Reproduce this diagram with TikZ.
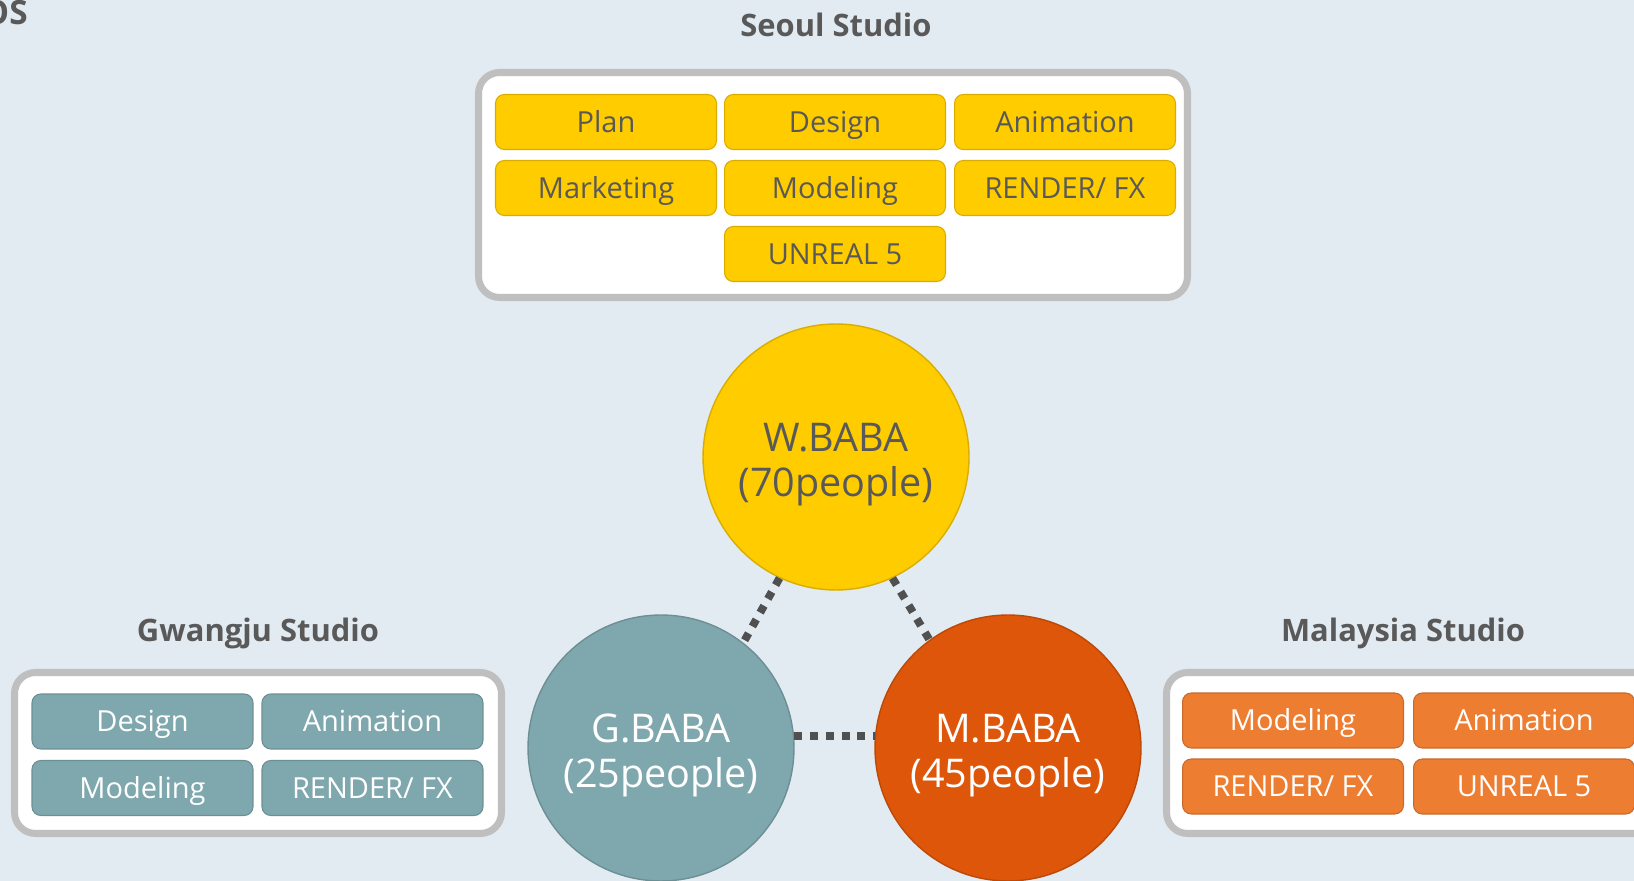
\documentclass[tikz,border=0pt]{standalone}
\usepackage{fontspec}
\setmainfont{Open Sans}
\definecolor{bg}{HTML}{E3EBF2}
\definecolor{txt}{HTML}{595959}
\definecolor{rim}{HTML}{BFBFBF}
\definecolor{wyellow}{HTML}{FFCC00}
\definecolor{gteal}{HTML}{7FA8AE}
\definecolor{morange}{HTML}{DD560A}
\definecolor{obtn}{HTML}{ED7D31}
\tikzset{
  title/.style={anchor=base, text=txt, font=\bfseries\fontsize{17.6}{20}\selectfont},
  studio/.style={draw=rim, line width=4pt, fill=white, rounded corners=12pt},
  btn/.style={rounded corners=5pt, minimum width=4.42cm, minimum height=1.1cm, inner sep=0pt,
    text height=11.9pt, text depth=0pt, line width=.6pt, font=\fontsize{16.5}{20}\selectfont},
  ybtn/.style={btn, fill=wyellow, draw=wyellow!85!black, text=txt},
  gbtn/.style={btn, fill=gteal, draw=gteal!85!black, text=white},
  obtn/.style={btn, fill=obtn, draw=obtn!85!black, text=white},
  baba/.style={circle, minimum size=5.32cm, inner sep=0pt, align=center, line width=.8pt,
    font=\fontsize{22.5}{25.6}\selectfont},
  dots/.style={draw=txt!90!black, line width=4.5pt, dash pattern=on 4.5pt off 4.5pt}
}
\newcommand\topline{\rule{0pt}{24.5pt}}
\begin{document}
\begin{tikzpicture}[x=.02cm, y=-.02cm]
\useasboundingbox (0,0) rectangle (1634,881);
\clip (0,0) rectangle (1634,881);
\fill[bg] (0,0) rectangle (1634,881);
\node[title, anchor=base east, inner sep=0pt, font=\bfseries\fontsize{19}{22}\selectfont] (head) at (28,25) {OS};

% studio boxes
\draw[studio] (478.5,72.5) rectangle (1187.5,297.5) (14.5,672.5) rectangle (501.5,833.5) (1166.5,672.5) rectangle (1700,833.5);
\path (836,36.5) node[title] (seoul) {Seoul Studio} (258,641.7) node[title] (gwangju) {Gwangju Studio} (1403,641.7) node[title] (malaysia) {Malaysia Studio};

\foreach \n/\t/\x/\y in {plan/Plan/606/122, design/Design/835/122, anim/Animation/1065/122, mkt/Marketing/606/188, model/Modeling/835/188, fx/{RENDER/ FX}/1065/188, unreal/UNREAL 5/835/254}
  \node[ybtn] (s-\n) at (\x,\y) {\t};
\foreach \n/\t/\x/\y in {design/Design/142.5/721.5, anim/Animation/372.5/721.5, model/Modeling/142.5/788, fx/{RENDER/ FX}/372.5/788}
  \node[gbtn] (g-\n) at (\x,\y) {\t};
\foreach \n/\t/\x/\y in {model/Modeling/1293/720.5, anim/Animation/1524/720.5, fx/{RENDER/ FX}/1293/786.5, unreal/UNREAL 5/1524/786.5}
  \node[obtn] (m-\n) at (\x,\y) {\t};

% teams
\node[baba, fill=wyellow, draw=wyellow!85!black, text=txt] (W) at (836,457) {\topline W.BABA\\(70people)};
\node[baba, fill=gteal, draw=gteal!85!black, text=white] (G) at (661,748) {\topline G.BABA\\(25people)};
\node[baba, fill=morange, draw=morange!85!black, text=white] (M) at (1008,748) {\topline M.BABA\\(45people)};
\draw[dots] (W.-115) -- (G.52);
\draw[dots] (W.-65) -- (M.126);
\draw[dots] (G.5) -- (M.175);
\end{tikzpicture}
\end{document}
